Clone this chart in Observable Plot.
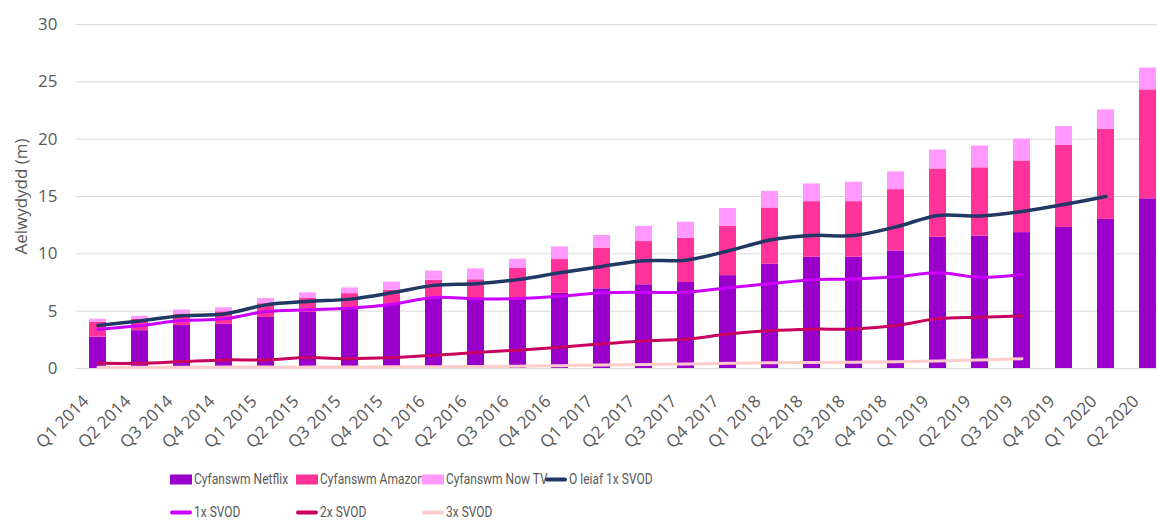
<!DOCTYPE html>
<html>
<head>
<meta charset="utf-8">
<script src="https://cdn.jsdelivr.net/npm/d3@7"></script>
<script src="https://cdn.jsdelivr.net/npm/@observablehq/plot@0.6"></script>
<style>
  html, body { margin: 0; padding: 0; background: #fff; overflow: hidden; }
  #chart { width: 1157px; height: 455px; }
  #legend { position: relative; width: 1157px; height: 66px; font-family: Roboto, "Open Sans", sans-serif; font-size: 15px; color: #595959; }
  .item { position: absolute; display: flex; align-items: center; white-space: nowrap; transform: translateY(-50%); line-height: 17px; }
  .sw { width: 22px; height: 10px; margin-right: 2px; flex: none; }
  .ln { width: 22px; height: 4px; border-radius: 2px; margin-right: 2px; flex: none; }
  .tx { display: inline-block; transform: scaleX(0.8); transform-origin: left center; }
</style>
</head>
<body>
<div id="chart"></div>
<div id="legend"></div>
<script>
const quarters = ["Q1 2014","Q2 2014","Q3 2014","Q4 2014","Q1 2015","Q2 2015","Q3 2015","Q4 2015",
  "Q1 2016","Q2 2016","Q3 2016","Q4 2016","Q1 2017","Q2 2017","Q3 2017","Q4 2017",
  "Q1 2018","Q2 2018","Q3 2018","Q4 2018","Q1 2019","Q2 2019","Q3 2019","Q4 2019","Q1 2020","Q2 2020"];

const netflix = [2.73, 3.3, 3.75, 3.85, 4.45, 4.9, 5.2, 5.6, 6.25, 6.1, 6.0, 6.55, 6.95, 7.3, 7.5, 8.1, 9.1, 9.7, 9.7, 10.25, 11.45, 11.55, 11.85, 12.3, 13.0, 14.8];
const amazon  = [1.3, 1.0, 0.95, 1.1, 1.2, 1.2, 1.33, 1.23, 1.44, 1.64, 2.73, 2.95, 3.55, 3.77, 3.85, 4.3, 4.9, 4.85, 4.85, 5.35, 5.95, 5.95, 6.25, 7.15, 7.85, 9.5];
const nowtv   = [0.27, 0.25, 0.4, 0.35, 0.45, 0.5, 0.5, 0.7, 0.8, 0.95, 0.8, 1.1, 1.1, 1.33, 1.4, 1.55, 1.45, 1.55, 1.7, 1.55, 1.65, 1.9, 1.9, 1.65, 1.7, 1.9];

const atLeast1 = [3.75, 4.15, 4.6, 4.75, 5.55, 5.85, 6.05, 6.6, 7.25, 7.4, 7.75, 8.35, 8.9, 9.4, 9.45, 10.25, 11.2, 11.6, 11.6, 12.35, 13.35, 13.3, 13.7, 14.3, 15.0];
const svod1 = [3.4, 3.75, 4.18, 4.33, 4.97, 5.12, 5.26, 5.6, 6.2, 6.07, 6.1, 6.3, 6.6, 6.65, 6.65, 7.05, 7.4, 7.75, 7.8, 8.0, 8.35, 7.95, 8.2];
const svod2 = [0.45, 0.45, 0.6, 0.75, 0.75, 0.95, 0.85, 0.95, 1.15, 1.4, 1.6, 1.85, 2.15, 2.4, 2.55, 3.0, 3.3, 3.43, 3.45, 3.75, 4.35, 4.47, 4.6];
const svod3 = [0.1, 0.1, 0.1, 0.12, 0.12, 0.12, 0.13, 0.15, 0.15, 0.17, 0.2, 0.25, 0.3, 0.35, 0.4, 0.45, 0.5, 0.52, 0.55, 0.58, 0.65, 0.75, 0.85];

const yTicks = [0, 5, 10, 15, 20, 25, 30];

const barSeries = [
  {name: "Cyfanswm Netflix", values: netflix, color: "#9900cc"},
  {name: "Cyfanswm Amazon", values: amazon, color: "#ff3399"},
  {name: "Cyfanswm Now TV", values: nowtv, color: "#ff99ff"}
];
const lineSeries = [
  {name: "O leiaf 1x SVOD", values: atLeast1, color: "#203864", width: 3.5},
  {name: "1x SVOD", values: svod1, color: "#cc00ff", width: 3},
  {name: "2x SVOD", values: svod2, color: "#c8005f", width: 3},
  {name: "3x SVOD", values: svod3, color: "#ffcccc", width: 3}
];

const barData = barSeries.flatMap(s => s.values.map((v, i) => ({q: quarters[i], v, s: s.name})));

const marks = [
  Plot.gridY(yTicks, {stroke: "#d9d9d9", strokeOpacity: 1, strokeWidth: 1}),
  Plot.axisY(yTicks, {tickSize: 0, tickPadding: 19, fontSize: 17, fill: "#595959",
    label: "Aelwydydd (m)", labelAnchor: "center", labelArrow: "none", labelOffset: 62}),
  Plot.axisX({tickSize: 0, tickPadding: 16, tickRotate: -45, fontSize: 17, dx: -12, dy: 14, fill: "#595959", label: null}),
  Plot.barY(barData, {x: "q", y: "v", fill: "s", order: barSeries.map(s => s.name)})
];
for (const s of lineSeries) {
  const d = s.values.map((v, i) => ({q: quarters[i], v}));
  marks.push(Plot.line(d, {x: "q", y: "v", stroke: s.color, strokeWidth: s.width, curve: "catmull-rom", strokeLinecap: "round"}));
}

const chart = Plot.plot({
  width: 1157,
  height: 455,
  marginTop: 24,
  marginBottom: 87,
  marginLeft: 76,
  marginRight: 0,
  style: {fontFamily: "'Open Sans', sans-serif", fontSize: "15px", color: "#595959", background: "#fff"},
  x: {domain: quarters, range: [76, 1169], paddingInner: 0.596, paddingOuter: 0.297},
  y: {domain: [0, 30]},
  color: {domain: barSeries.map(s => s.name), range: barSeries.map(s => s.color)},
  marks
});
document.getElementById("chart").appendChild(chart);

const legend = document.getElementById("legend");
const cols = [170, 296, 422, 545];
const rows = [24, 57];
const items = [
  ...barSeries.map(s => ({...s, kind: "bar"})),
  ...lineSeries.map(s => ({...s, kind: "line"}))
];
items.forEach((it, k) => {
  const div = document.createElement("div");
  div.className = "item";
  div.style.left = cols[k % 4] + "px";
  div.style.top = rows[Math.floor(k / 4)] + "px";
  const sw = document.createElement("span");
  sw.className = it.kind === "bar" ? "sw" : "ln";
  sw.style.background = it.color;
  const tx = document.createElement("span");
  tx.className = "tx";
  tx.textContent = it.name;
  div.appendChild(sw);
  div.appendChild(tx);
  legend.appendChild(div);
});
</script>
</body>
</html>
